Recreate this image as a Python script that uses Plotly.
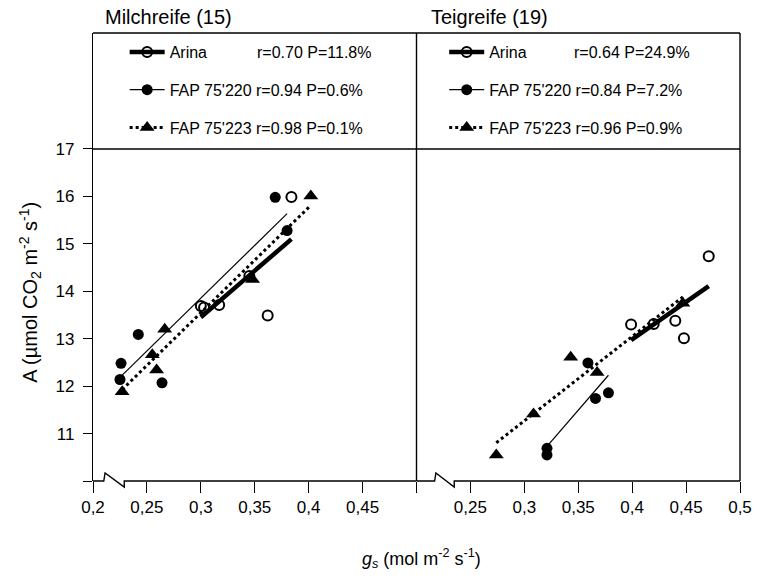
import numpy as np
import plotly.graph_objects as go

# ---- Milchreife: stomatal conductance gs (mol m-2 s-1) and assimilation A ----
milch_arina_gs = [0.384, 0.362, 0.317, 0.300, 0.303, 0.345]
milch_arina_a = [15.99, 13.49, 13.71, 13.69, 13.66, 14.32]
milch_220_gs = [0.369, 0.380, 0.242, 0.226, 0.225, 0.264]
milch_220_a = [15.98, 15.28, 13.09, 12.48, 12.14, 12.07]
milch_223_gs = [0.402, 0.348, 0.2665, 0.255, 0.259, 0.227]
milch_223_a = [16.01, 14.25, 13.20, 12.66, 12.34, 11.88]

# ---- Teigreife ----
teig_arina_gs = [0.471, 0.399, 0.420, 0.440, 0.448]
teig_arina_a = [14.74, 13.30, 13.31, 13.38, 13.01]
teig_220_gs = [0.359, 0.366, 0.378, 0.321, 0.321]
teig_220_a = [12.49, 11.74, 11.86, 10.69, 10.55]
teig_223_gs = [0.343, 0.3675, 0.3085, 0.274, 0.447]
teig_223_a = [12.61, 12.29, 11.41, 10.55, 13.75]

cultivars = ["Arina", "FAP 75'220", "FAP 75'223"]
milch_stats = ["r=0.70 P=11.8%", "r=0.94 P=0.6%", "r=0.98 P=0.1%"]
teig_stats = ["r=0.64 P=24.9%", "r=0.84 P=7.2%", "r=0.96 P=0.9%"]
panel_titles = ["Milchreife (15)", "Teigreife (19)"]

x_ticks = [0.2, 0.25, 0.3, 0.35, 0.4, 0.45, 0.5]
left_tick_text = ["0,2", "0,25", "0,3", "0,35", "0,4", "0,45", ""]
right_tick_text = ["", "0,25", "0,3", "0,35", "0,4", "0,45", "0,5"]
y_ticks = [10, 11, 12, 13, 14, 15, 16, 17]
y_tick_text = ["", "11", "12", "13", "14", "15", "16", "17"]

FONT = "Liberation Sans, Arial, Helvetica, sans-serif"
INK = "black"

# plot-area geometry (pixels)
W, H = 764, 576
ML, MR, MT, MB = 93, 17, 33, 95
PW, PH = W - ML - MR, H - MT - MB
Y_MIN, Y_TOP_TICK = 10, 17
PX_PER_UNIT = 47.43
Y_MAX = Y_MIN + PH / PX_PER_UNIT


def px_x(px):
    return (px - ML) / PW


def px_y(py):
    return (H - MB - py) / PH


styles = [
    dict(line=dict(color=INK, width=4.5),
         marker=dict(symbol="circle-open", size=10, color=INK, line=dict(width=2, color=INK))),
    dict(line=dict(color=INK, width=1.2),
         marker=dict(symbol="circle", size=11, color=INK)),
    dict(line=dict(color=INK, width=3, dash="3px,3px"),
         marker=dict(symbol="triangle-up", size=13, color=INK)),
]

panels = [
    dict(xaxis="x", legend="legend", stats=milch_stats,
         data=[(milch_arina_gs, milch_arina_a), (milch_220_gs, milch_220_a), (milch_223_gs, milch_223_a)]),
    dict(xaxis="x2", legend="legend2", stats=teig_stats,
         data=[(teig_arina_gs, teig_arina_a), (teig_220_gs, teig_220_a), (teig_223_gs, teig_223_a)]),
]

fig = go.Figure()

for p in panels:
    for i, (gs, a) in enumerate(p["data"]):
        st = styles[i]
        gs_arr, a_arr = np.asarray(gs), np.asarray(a)
        slope, intercept = np.polyfit(gs_arr, a_arr, 1)
        fit_x = np.array([gs_arr.min(), gs_arr.max()])
        fig.add_trace(go.Scatter(x=fit_x, y=slope * fit_x + intercept, mode="lines",
                                 line=st["line"], xaxis=p["xaxis"], yaxis="y",
                                 showlegend=False, hoverinfo="skip"))
        fig.add_trace(go.Scatter(x=gs, y=a, mode="markers", marker=st["marker"],
                                 xaxis=p["xaxis"], yaxis="y", showlegend=False))
    # legend keys
    for i, name in enumerate(cultivars):
        st = styles[i]
        label = name if i == 0 else f"{name} {p['stats'][i]}"
        fig.add_trace(go.Scatter(x=[None], y=[None], mode="lines+markers", name=label,
                                 line=st["line"], marker=st["marker"],
                                 xaxis=p["xaxis"], yaxis="y", legend=p["legend"],
                                 legendgroup=f"{p['legend']}{i}"))

axis_common = dict(range=[0.2, 0.5], tickvals=x_ticks, ticks="outside", ticklen=11,
                   tickwidth=1.3, tickcolor=INK, showline=False, showgrid=False,
                   zeroline=False, tickfont=dict(family=FONT, size=17, color=INK),
                   anchor="y", fixedrange=True)

legend_common = dict(font=dict(family=FONT, size=16, color=INK), bgcolor="rgba(0,0,0,0)",
                     borderwidth=0, traceorder="grouped", tracegroupgap=14,
                     itemwidth=35, xanchor="left", yanchor="top", itemclick=False)

fig.update_layout(
    width=W, height=H, autosize=False,
    margin=dict(l=ML, r=MR, t=MT, b=MB, pad=0),
    paper_bgcolor="white", plot_bgcolor="white",
    font=dict(family=FONT, color=INK),
    xaxis=dict(domain=[0, 0.5], ticktext=left_tick_text, **axis_common),
    xaxis2=dict(domain=[0.5, 1], ticktext=right_tick_text, **axis_common),
    yaxis=dict(range=[Y_MIN, Y_MAX], tickvals=y_ticks, ticktext=y_tick_text,
               ticks="outside", ticklen=9, tickwidth=1.3, tickcolor=INK,
               showline=True, linecolor=INK, linewidth=1.4, showgrid=False,
               zeroline=False, ticklabelstandoff=5,
               tickfont=dict(family=FONT, size=17, color=INK), fixedrange=True),
    legend=dict(x=px_x(125), y=px_y(35), **legend_common),
    legend2=dict(x=px_x(448), y=px_y(35), **legend_common),
    showlegend=True,
)

line_style = dict(color=INK, width=1.4)
# frame: top edge, right edge, panel divider and the line at A = 17
fig.add_shape(type="line", xref="paper", yref="paper", x0=0, x1=1, y0=1, y1=1, line=line_style)
fig.add_shape(type="line", xref="paper", yref="paper", x0=1, x1=1, y0=0, y1=1, line=line_style)
fig.add_shape(type="line", xref="paper", yref="paper", x0=0.5, x1=0.5, y0=0, y1=1, line=line_style)
fig.add_shape(type="line", xref="paper", yref="y", x0=0, x1=1, y0=Y_TOP_TICK, y1=Y_TOP_TICK,
              line=line_style)

# bottom axis lines with the axis-break zigzag
breaks = [("x", 0.210, 0.229), ("x2", 0.2168, 0.235)]
for xref, b0, b1 in breaks:
    path = (f"M 0.2,0 L {b0},0 L {b0 + 0.0012},8 L {b1},-6 L {b1},0 L 0.5,0")
    fig.add_shape(type="path", xref=xref, yref="paper", ysizemode="pixel", yanchor=0,
                  path=path, line=line_style)

# panel titles
for k, title in enumerate(panel_titles):
    fig.add_annotation(text=title, xref="paper", yref="paper",
                       x=px_x([103, 433][k]), y=px_y(17), xanchor="left", yanchor="middle",
                       showarrow=False, font=dict(family=FONT, size=20, color=INK))

# statistics of the Arina regression, next to its legend key
for k, p in enumerate(panels):
    fig.add_annotation(text=p["stats"][0], xref="paper", yref="paper",
                       x=px_x([257, 577][k]), y=px_y(52), xanchor="left", yanchor="middle",
                       showarrow=False, font=dict(family=FONT, size=16, color=INK))

# axis titles
fig.add_annotation(text="A (µmol CO<sub>2</sub> m<sup>-2</sup> s<sup>-1</sup>)",
                   xref="paper", yref="paper", x=px_x(29), y=px_y(292), textangle=-90,
                   xanchor="center", yanchor="middle", showarrow=False,
                   font=dict(family=FONT, size=20, color=INK))
fig.add_annotation(text="<i>g</i><sub><i>s</i></sub> (mol m<sup>-2</sup> s<sup>-1</sup>)",
                   xref="paper", yref="paper", x=px_x(425), y=px_y(558),
                   xanchor="center", yanchor="middle", showarrow=False,
                   font=dict(family=FONT, size=18, color=INK))

fig.write_html("out.html")
